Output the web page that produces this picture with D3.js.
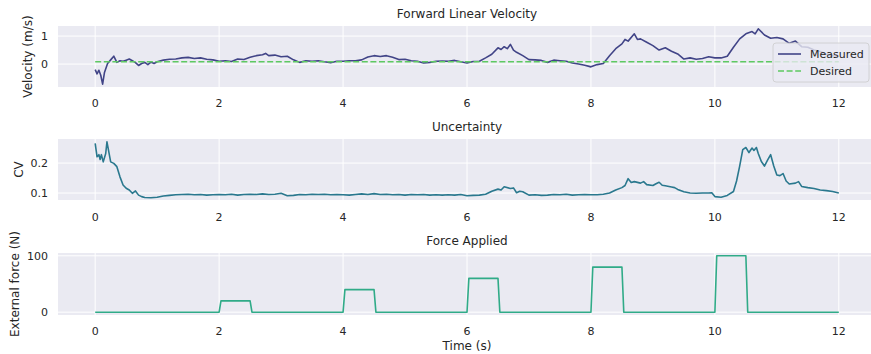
<!DOCTYPE html>
<html>
<head>
<meta charset="utf-8">
<script src="https://cdn.jsdelivr.net/npm/d3@7"></script>
<style>
  body { margin: 0; background: #ffffff; }
  svg text { font-family: "DejaVu Sans", sans-serif; fill: #262626; }
</style>
</head>
<body>
<svg id="chart" width="871" height="354"></svg>
<script>
// ---------------- DATA ----------------
const xTicks = [0, 2, 4, 6, 8, 10, 12];

const velTime = [0, 0.03, 0.06, 0.09, 0.12, 0.15, 0.2, 0.25, 0.3, 0.35, 0.4, 0.45, 0.5, 0.55, 0.6, 0.65, 0.7, 0.75, 0.8, 0.85, 0.9, 0.95, 1.0,
  1.1, 1.2, 1.3, 1.4, 1.5, 1.6, 1.7, 1.8, 1.9, 2.0, 2.1, 2.2, 2.3, 2.4, 2.5, 2.6, 2.7, 2.75, 2.8, 2.9, 3.0, 3.1, 3.2, 3.3, 3.4, 3.5, 3.6, 3.7, 3.8, 3.9,
  4.0, 4.1, 4.2, 4.3, 4.4, 4.5, 4.6, 4.7, 4.8, 4.9, 5.0, 5.1, 5.2, 5.3, 5.4, 5.5, 5.6, 5.7, 5.8, 5.9,
  6.0, 6.1, 6.2, 6.3, 6.4, 6.5, 6.55, 6.6, 6.65, 6.7, 6.75, 6.8, 6.9, 7.0, 7.1, 7.2, 7.3, 7.4, 7.5, 7.6, 7.7, 7.8, 7.9,
  8.0, 8.1, 8.2, 8.3, 8.4, 8.5, 8.55, 8.6, 8.7, 8.75, 8.8, 8.9, 9.0, 9.1, 9.2, 9.3, 9.4, 9.5, 9.6, 9.7, 9.8, 9.9,
  10.0, 10.1, 10.2, 10.3, 10.4, 10.5, 10.6, 10.65, 10.7, 10.8, 10.9, 11.0, 11.1, 11.2, 11.3, 11.4, 11.5, 11.6, 11.7, 11.8, 11.9, 12.0];
const velMeasured = [-0.2, -0.35, -0.22, -0.4, -0.72, -0.3, 0.02, 0.15, 0.28, 0.06, 0.12, 0.1, 0.14, 0.18, 0.12, 0.05, -0.05, 0.02, 0.06, -0.02, 0.07, 0.02, 0.08,
  0.14, 0.17, 0.18, 0.22, 0.24, 0.2, 0.22, 0.17, 0.15, 0.1, 0.12, 0.09, 0.18, 0.16, 0.24, 0.3, 0.33, 0.38, 0.3, 0.32, 0.26, 0.28, 0.15, 0.06, 0.12, 0.1, 0.12, 0.08, 0.05, 0.1,
  0.1, 0.12, 0.12, 0.15, 0.25, 0.3, 0.27, 0.3, 0.24, 0.16, 0.17, 0.12, 0.1, 0.04, 0.06, 0.1, 0.11, 0.1, 0.13, 0.08,
  0.04, 0.09, 0.1, 0.22, 0.35, 0.58, 0.52, 0.62, 0.55, 0.7, 0.5, 0.42, 0.3, 0.16, 0.15, 0.13, 0.06, 0.14, 0.12, 0.1, 0.04, 0.0, -0.04,
  -0.1, -0.02, 0.02, 0.3, 0.55, 0.72, 0.88, 0.82, 1.08, 0.88, 0.9, 0.78, 0.66, 0.5, 0.58, 0.46, 0.36, 0.18, 0.22, 0.17, 0.2, 0.26,
  0.22, 0.22, 0.28, 0.6, 0.9, 1.08, 1.16, 1.08, 1.26, 1.04, 0.92, 0.95, 0.9, 0.74, 0.82, 0.62, 0.6, 0.5, 0.45, 0.35, 0.3, 0.28];
const velDesiredTime = [0, 12];
const velDesired = [0.085, 0.085];

const cvTime = [0, 0.03, 0.06, 0.08, 0.1, 0.13, 0.17, 0.19, 0.25, 0.3, 0.35, 0.4, 0.45, 0.5, 0.55, 0.6, 0.65, 0.7, 0.75, 0.8, 0.9, 1.0, 1.1, 1.2,
  1.3, 1.4, 1.5, 1.6, 1.7, 1.8, 1.9, 2.0, 2.1, 2.2, 2.3, 2.4, 2.5, 2.6, 2.7, 2.8, 2.9, 3.0, 3.1, 3.2, 3.3, 3.4, 3.5, 3.6, 3.7, 3.8, 3.9,
  4.0, 4.1, 4.2, 4.3, 4.4, 4.5, 4.6, 4.7, 4.8, 4.9, 5.0, 5.1, 5.2, 5.3, 5.4, 5.5, 5.6, 5.7, 5.8, 5.9,
  6.0, 6.1, 6.2, 6.3, 6.4, 6.5, 6.55, 6.6, 6.7, 6.75, 6.8, 6.85, 6.9, 7.0, 7.1, 7.2, 7.3, 7.4, 7.5, 7.6, 7.7, 7.8, 7.9,
  8.0, 8.1, 8.2, 8.3, 8.4, 8.5, 8.55, 8.6, 8.65, 8.7, 8.8, 8.85, 8.9, 9.0, 9.05, 9.1, 9.15, 9.2, 9.3, 9.35, 9.4, 9.5, 9.6, 9.7, 9.8, 9.9, 9.95,
  10.0, 10.1, 10.2, 10.3, 10.35, 10.4, 10.45, 10.5, 10.55, 10.6, 10.63, 10.67, 10.7, 10.75, 10.8, 10.85, 10.9, 10.95,
  11.0, 11.05, 11.1, 11.15, 11.2, 11.3, 11.35, 11.4, 11.5, 11.6, 11.7, 11.8, 11.9, 12.0];
const cvValues = [0.266, 0.221, 0.228, 0.212, 0.228, 0.204, 0.232, 0.271, 0.204, 0.199, 0.188, 0.154, 0.127, 0.116, 0.11, 0.099, 0.107, 0.093, 0.088, 0.085, 0.084, 0.086, 0.09, 0.092,
  0.094, 0.095, 0.096, 0.094, 0.095, 0.093, 0.094, 0.095, 0.094, 0.096, 0.093, 0.095, 0.096, 0.095, 0.097, 0.095, 0.096, 0.099, 0.091, 0.092, 0.095, 0.094, 0.096, 0.095, 0.096, 0.094, 0.095,
  0.094, 0.093, 0.095, 0.097, 0.095, 0.098, 0.095, 0.096, 0.094, 0.095, 0.093, 0.095, 0.094, 0.095, 0.093, 0.094, 0.093, 0.094, 0.093, 0.095,
  0.091, 0.092, 0.093, 0.096, 0.106, 0.113, 0.11, 0.121, 0.115, 0.117, 0.101, 0.106, 0.104, 0.093, 0.094, 0.092, 0.093, 0.095, 0.094, 0.096, 0.093, 0.094, 0.095,
  0.094, 0.094, 0.096, 0.1, 0.11, 0.118, 0.125, 0.148, 0.135, 0.138, 0.133, 0.138, 0.128, 0.125, 0.131, 0.136, 0.126, 0.124, 0.12, 0.118, 0.112, 0.104, 0.1, 0.099, 0.1, 0.1, 0.101,
  0.088, 0.086, 0.092, 0.105, 0.14, 0.19, 0.245, 0.252, 0.235, 0.25, 0.242, 0.252, 0.232, 0.205, 0.19, 0.21, 0.228, 0.19,
  0.16, 0.158, 0.165, 0.14, 0.13, 0.133, 0.138, 0.122, 0.118, 0.115, 0.11, 0.108, 0.105, 0.1];

const forceTime = [0, 2.0, 2.03, 2.5, 2.53, 4.0, 4.03, 4.5, 4.53, 6.0, 6.03, 6.5, 6.53, 8.0, 8.03, 8.5, 8.53, 10.0, 10.03, 10.5, 10.53, 12.0];
const forceValues = [0, 0, 20, 20, 0, 0, 40, 40, 0, 0, 60, 60, 0, 0, 80, 80, 0, 0, 100, 100, 0, 0];

const velTicks = [0, 1];
const cvTicks = [0.1, 0.2];
const forceTicks = [0, 100];

// ---------------- LAYOUT ----------------
const svg = d3.select("#chart");
const left = 58, right = 876;
const x = d3.scaleLinear().domain([-0.6, 12.6]).range([left, right]);

const panels = [
  { title: "Forward Linear Velocity", ylabel: "Velocity (m/s)", top: 26, bottom: 87, domain: [-0.82, 1.36],
    ticks: velTicks, fmt: d3.format("d"), ylabelX: 28, tickLabelY: 103 },
  { title: "Uncertainty", ylabel: "CV", top: 139, bottom: 200, domain: [0.0767, 0.2803],
    ticks: cvTicks, fmt: d3.format(".1f"), ylabelX: 19, tickLabelY: 217 },
  { title: "Force Applied", ylabel: "External force (N)", top: 253, bottom: 315, domain: [-5, 105],
    ticks: forceTicks, fmt: d3.format("d"), ylabelX: 15, tickLabelY: 331 }
];

panels.forEach(p => {
  p.y = d3.scaleLinear().domain(p.domain).range([p.bottom, p.top]);
  const g = svg.append("g");
  g.append("rect").attr("x", left).attr("y", p.top).attr("width", right - left).attr("height", p.bottom - p.top)
    .attr("fill", "#eaeaf2");
  // grid
  g.selectAll(".vg").data(xTicks).enter().append("line")
    .attr("x1", d => x(d)).attr("x2", d => x(d)).attr("y1", p.top).attr("y2", p.bottom)
    .attr("stroke", "#ffffff").attr("stroke-width", 1);
  g.selectAll(".hg").data(p.ticks).enter().append("line")
    .attr("x1", left).attr("x2", right).attr("y1", d => p.y(d)).attr("y2", d => p.y(d))
    .attr("stroke", "#ffffff").attr("stroke-width", 1);
  // x tick labels
  g.selectAll(".xt").data(xTicks).enter().append("text")
    .attr("x", d => x(d)).attr("y", p.tickLabelY).attr("dy", "0.35em")
    .attr("text-anchor", "middle").attr("font-size", 11).text(d => d);
  // y tick labels
  g.selectAll(".yt").data(p.ticks).enter().append("text")
    .attr("x", 48).attr("y", d => p.y(d)).attr("dy", "0.35em")
    .attr("text-anchor", "end").attr("font-size", 11).text(d => p.fmt(d));
  // title
  g.append("text").attr("x", (left + right) / 2).attr("y", p.top - 12).attr("dy", "0.35em")
    .attr("text-anchor", "middle").attr("font-size", 12).text(p.title);
  // y label
  g.append("text").attr("transform", `translate(${p.ylabelX},${(p.top + p.bottom) / 2}) rotate(-90)`)
    .attr("dy", "0.35em").attr("text-anchor", "middle").attr("font-size", 12).text(p.ylabel);
});

// x axis label
svg.append("text").attr("x", (left + right) / 2).attr("y", 346).attr("dy", "0.35em")
  .attr("text-anchor", "middle").attr("font-size", 12).text("Time (s)");

// ---------------- LINES ----------------
function drawLine(p, ts, vs, color, dash) {
  const pts = ts.map((t, i) => [t, vs[i]]);
  const line = d3.line().x(d => x(d[0])).y(d => p.y(d[1]));
  svg.append("path").datum(pts).attr("d", line)
    .attr("fill", "none").attr("stroke", color).attr("stroke-width", 1.6)
    .attr("stroke-linejoin", "round")
    .attr("stroke-dasharray", dash || null);
}

drawLine(panels[0], velTime, velMeasured, "#414487");
drawLine(panels[0], velDesiredTime, velDesired, "#5ec962", "6,2.6");
drawLine(panels[1], cvTime, cvValues, "#2a788e");
drawLine(panels[2], forceTime, forceValues, "#30ab88");

// ---------------- LEGEND ----------------
const lg = svg.append("g");
lg.append("rect").attr("x", 773).attr("y", 43).attr("width", 96).attr("height", 39).attr("rx", 3)
  .attr("fill", "#eaeaf2").attr("fill-opacity", 0.8).attr("stroke", "#cccccc").attr("stroke-width", 0.8);
const legendItems = [
  { label: "Measured", color: "#414487", dash: null, y: 54 },
  { label: "Desired", color: "#5ec962", dash: "6,2.6", y: 71 }
];
legendItems.forEach(it => {
  lg.append("line").attr("x1", 778).attr("x2", 801).attr("y1", it.y).attr("y2", it.y)
    .attr("stroke", it.color).attr("stroke-width", 1.6).attr("stroke-dasharray", it.dash);
  lg.append("text").attr("x", 810).attr("y", it.y).attr("dy", "0.35em").attr("font-size", 11).text(it.label);
});
</script>
</body>
</html>
